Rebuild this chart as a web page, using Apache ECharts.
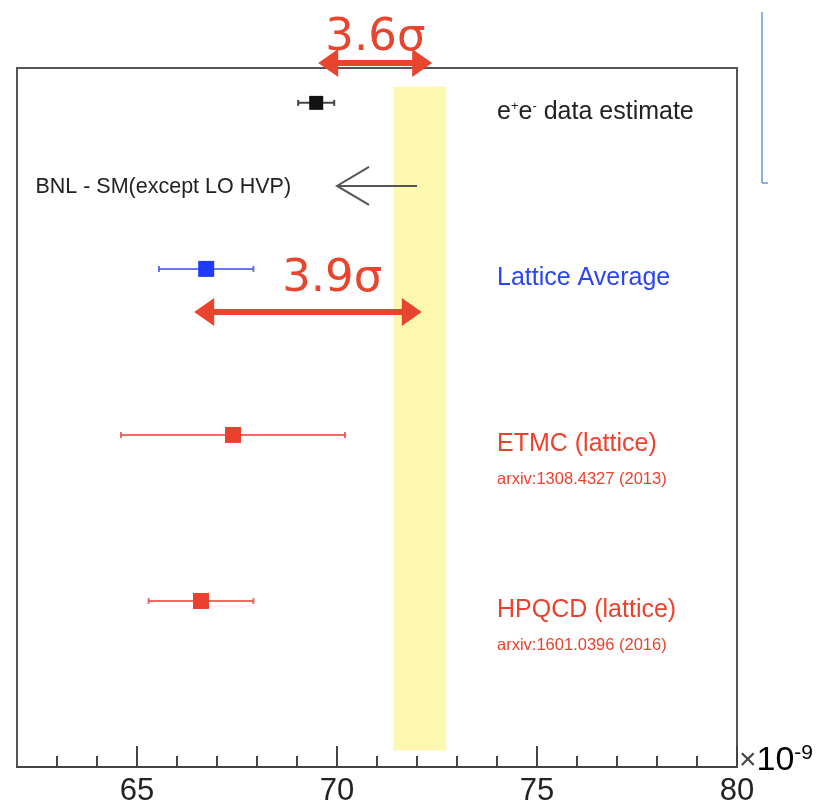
<html>
<head>
    <meta charset="utf-8">
    <script src="https://cdn.jsdelivr.net/npm/echarts@6/dist/echarts.min.js"></script>
</head>
<style>
    body {
        margin: 0;
        background: #fff;
    }

    #chart {
        width: 825px;
        height: 803px;
    }
</style>

<body>
    <div id="chart"></div>
    <script>
        // measurements (x values in units of 1e-9), rows counted from the bottom
        const labels = ['e+e- data estimate', 'Lattice Average', 'ETMC (lattice)', 'HPQCD (lattice)']
        const refs = ['', '', 'arxiv:1308.4327 (2013)', 'arxiv:1601.0396 (2016)']
        const centers = [69.48, 66.73, 67.4, 66.6]
        const errors = [0.45, 1.18, 2.8, 1.31]
        const rows = [8, 6, 4, 2]

        // BNL - SM arrow (from, to) and the yellow band
        const bnlText = 'BNL - SM(except LO HVP)'
        const bnlArrow = [72.0, 70.0]
        const bnlRow = 7
        const band = [71.41, 72.73]

        // sigma annotations
        const sigmaText = ['3.6σ', '3.9σ']
        const sigmaFrom = [69.53, 66.43]
        const sigmaTo = [72.38, 72.12]
        const sigmaRow = [8.48, 5.48]
        const sigmaTextX = [70.96, 69.88]
        const sigmaTextRow = [8.78, 5.87]

        const majorTicks = [65, 70, 75, 80]
        const minorTicks = [63, 64, 66, 67, 68, 69, 71, 72, 73, 74, 76, 77, 78, 79]

        const pointColors = ['#111', '#1e3cff', '#ec412c', '#ec412c']
        const barColors = ['#444', 'rgba(70,80,255,0.8)', 'rgba(240,70,60,0.8)', 'rgba(240,70,60,0.8)']
        const textColors = ['#222', '#2b45f5', '#ec412c', '#ec412c']
        const red = '#e8452f'

        const myChart = echarts.init(document.getElementById('chart'))

        const pointData = centers.map(function (c, i) {
            return [c, errors[i], rows[i], i]
        })

        const labelData = labels.map(function (t, i) {
            return [74.0, rows[i] - 0.11, i]
        })

        function arrowHead(tip, dir, len, half) {
            // filled triangle pointing in dir (+1 right, -1 left)
            return [
                [tip[0], tip[1]],
                [tip[0] - dir * len, tip[1] - half],
                [tip[0] - dir * len, tip[1] + half]
            ]
        }

        option = {
            animation: false,
            grid: {
                left: 17,
                right: 88,
                top: 68,
                bottom: 36,
                containLabel: false,
                outerBoundsMode: 'none',
                show: true,
                borderColor: '#555',
                borderWidth: 2,
                backgroundColor: 'transparent'
            },
            xAxis: [{
                type: 'value',
                min: 62,
                max: 80,
                position: 'bottom',
                splitLine: { show: false },
                axisLine: { lineStyle: { color: '#444', width: 2 } },
                axisTick: {
                    inside: true,
                    length: 21,
                    customValues: majorTicks,
                    lineStyle: { color: '#444', width: 2 }
                },
                axisLabel: {
                    customValues: majorTicks,
                    fontSize: 31,
                    fontFamily: 'Liberation Sans',
                    color: '#222',
                    margin: 9
                },
                name: '{x|×}{t|10}{s|-9}',
                nameLocation: 'end',
                nameGap: 2,
                nameMoveOverlap: false,
                nameTextStyle: {
                    verticalAlign: 'bottom',
                    padding: [0, 0, -12, 0],
                    rich: {
                        x: { fontSize: 30, fontFamily: 'Liberation Sans', color: '#444', lineHeight: 36 },
                        t: { fontSize: 34, fontFamily: 'Liberation Sans', color: '#000', lineHeight: 36 },
                        s: { fontSize: 21, fontFamily: 'Liberation Sans', color: '#000', verticalAlign: 'top', lineHeight: 36 }
                    }
                }
            }, {
                type: 'value',
                min: 62,
                max: 80,
                position: 'bottom',
                splitLine: { show: false },
                axisLine: { show: false },
                axisLabel: { show: false },
                axisTick: {
                    inside: true,
                    length: 11,
                    customValues: minorTicks,
                    lineStyle: { color: '#444', width: 2 }
                }
            }],
            yAxis: {
                type: 'value',
                min: 0,
                max: 8.42,
                show: false
            },
            graphic: [{
                type: 'line',
                shape: { x1: 762, y1: 12, x2: 762, y2: 183 },
                style: { stroke: '#6b96d8', lineWidth: 1.5 }
            }, {
                type: 'line',
                shape: { x1: 762, y1: 183, x2: 768, y2: 183 },
                style: { stroke: '#6b96d8', lineWidth: 1.5 }
            }],
            series: [{
                // yellow band
                type: 'scatter',
                data: [],
                silent: true,
                markArea: {
                    silent: true,
                    itemStyle: { color: '#fcf8b0' },
                    data: [[{ coord: [band[0], 0.2] }, { coord: [band[1], 8.195] }]]
                }
            }, {
                // BNL arrow and text
                type: 'custom',
                silent: true,
                data: [[bnlArrow[0], bnlArrow[1], bnlRow]],
                renderItem: function (params, api) {
                    const from = api.coord([api.value(0), api.value(2)])
                    const to = api.coord([api.value(1), api.value(2)])
                    const left = api.coord([62.46, api.value(2) - 0.02])
                    return {
                        type: 'group',
                        children: [{
                            type: 'polyline',
                            shape: { points: [from, to] },
                            style: { stroke: '#555', lineWidth: 2, fill: null }
                        }, {
                            type: 'polyline',
                            shape: { points: [[to[0] + 32, to[1] - 19], to, [to[0] + 32, to[1] + 19]] },
                            style: { stroke: '#555', lineWidth: 2, fill: null }
                        }, {
                            type: 'text',
                            x: left[0],
                            y: left[1],
                            style: {
                                text: bnlText,
                                fill: '#222',
                                font: '21.5px "Liberation Sans"',
                                verticalAlign: 'middle',
                                align: 'left'
                            }
                        }]
                    }
                }
            }, {
                // error bars
                type: 'custom',
                silent: true,
                data: pointData,
                renderItem: function (params, api) {
                    const i = api.value(3)
                    const lo = api.coord([api.value(0) - api.value(1), api.value(2)])
                    const hi = api.coord([api.value(0) + api.value(1), api.value(2)])
                    const col = barColors[i]
                    const cap = 3
                    return {
                        type: 'group',
                        children: [{
                            type: 'line',
                            shape: { x1: lo[0], y1: lo[1], x2: hi[0], y2: hi[1] },
                            style: { stroke: col, lineWidth: 2 }
                        }, {
                            type: 'line',
                            shape: { x1: lo[0], y1: lo[1] - cap, x2: lo[0], y2: lo[1] + cap },
                            style: { stroke: col, lineWidth: 2 }
                        }, {
                            type: 'line',
                            shape: { x1: hi[0], y1: hi[1] - cap, x2: hi[0], y2: hi[1] + cap },
                            style: { stroke: col, lineWidth: 2 }
                        }]
                    }
                }
            }, {
                // central values
                type: 'scatter',
                symbol: 'rect',
                silent: true,
                data: centers.map(function (c, i) {
                    return {
                        value: [c, rows[i]],
                        symbolSize: i === 0 ? 14 : 16,
                        itemStyle: { color: pointColors[i], opacity: 1 }
                    }
                })
            }, {
                // right-hand labels
                type: 'custom',
                silent: true,
                data: labelData,
                renderItem: function (params, api) {
                    const i = api.value(2)
                    const p = api.coord([api.value(0), api.value(1)])
                    const children = []
                    let text = labels[i]
                    let rich = {}
                    if (i === 0) {
                        text = '{n|e}{s|+}{n|e}{s|-}{n| data estimate}'
                        rich = {
                            n: { fontSize: 25, fontFamily: 'Liberation Sans', fill: textColors[i] },
                            s: { fontSize: 13, fontFamily: 'Liberation Sans', fill: textColors[i], verticalAlign: 'top', padding: [0, 0, 10, 0] }
                        }
                    }
                    children.push({
                        type: 'text',
                        x: p[0],
                        y: p[1],
                        style: {
                            text: text,
                            rich: rich,
                            fill: textColors[i],
                            font: '25px "Liberation Sans"',
                            verticalAlign: 'middle',
                            align: 'left'
                        }
                    })
                    if (refs[i]) {
                        const q = api.coord([api.value(0), api.value(1) - 0.43])
                        children.push({
                            type: 'text',
                            x: q[0],
                            y: q[1],
                            style: {
                                text: refs[i],
                                fill: textColors[i],
                                font: '16.5px "Liberation Sans"',
                                verticalAlign: 'middle',
                                align: 'left'
                            }
                        })
                    }
                    return { type: 'group', children: children }
                }
            }, {
                // sigma annotations
                type: 'custom',
                silent: true,
                clip: false,
                data: sigmaText.map(function (t, i) {
                    return [sigmaFrom[i], sigmaTo[i], sigmaRow[i], sigmaTextX[i], sigmaTextRow[i], i]
                }),
                renderItem: function (params, api) {
                    const i = api.value(5)
                    const a = api.coord([api.value(0), api.value(2)])
                    const b = api.coord([api.value(1), api.value(2)])
                    const t = api.coord([api.value(3), api.value(4)])
                    const head = 20
                    return {
                        type: 'group',
                        children: [{
                            type: 'line',
                            shape: { x1: a[0] + head - 2, y1: a[1], x2: b[0] - head + 2, y2: b[1] },
                            style: { stroke: red, lineWidth: 6 }
                        }, {
                            type: 'polygon',
                            shape: { points: arrowHead(b, 1, head, 14) },
                            style: { fill: red }
                        }, {
                            type: 'polygon',
                            shape: { points: arrowHead(a, -1, head, 14) },
                            style: { fill: red }
                        }, {
                            type: 'text',
                            x: t[0],
                            y: t[1],
                            style: {
                                text: sigmaText[i],
                                fill: red,
                                font: '45px "DejaVu Sans"',
                                align: 'center',
                                verticalAlign: 'middle'
                            }
                        }]
                    }
                }
            }]
        }

        myChart.setOption(option)
    </script>
</body>

</html>
